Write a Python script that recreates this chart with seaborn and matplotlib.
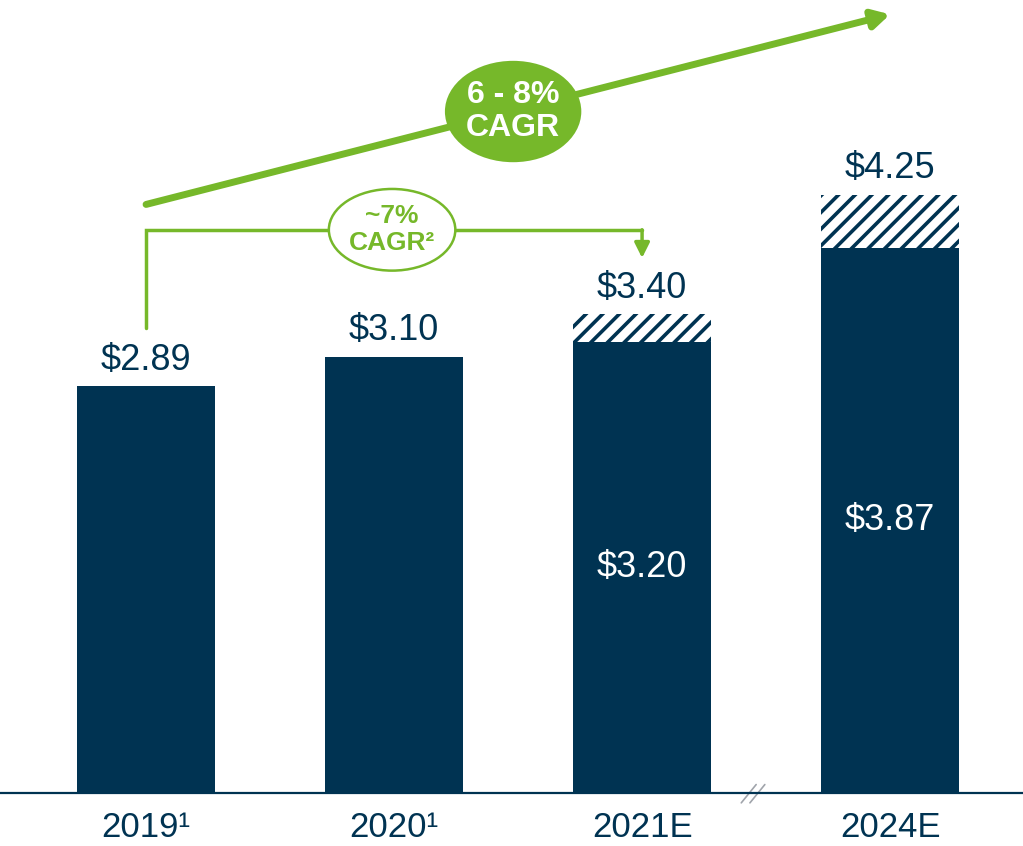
import matplotlib
matplotlib.use("Agg")
import matplotlib.pyplot as plt
import seaborn as sns
import pandas as pd
from matplotlib.patches import Ellipse

# chart values
years = ["2019\u00b9", "2020\u00b9", "2021E", "2024E"]
base_vals = [2.89, 3.10, 3.20, 3.87]     # solid part
total_vals = [2.89, 3.10, 3.40, 4.25]    # top of hatched range
top_labels = ["$2.89", "$3.10", "$3.40", "$4.25"]
inner_labels = ["", "", "$3.20", "$3.87"]
cagr_long = "6 - 8%\nCAGR"
cagr_short = "~7%\nCAGR\u00b2"

navy = "#003352"
green = "#76b82a"

sns.set_style("white")
plt.rcParams['font.family'] = ['Liberation Sans', 'DejaVu Sans']
plt.rcParams['hatch.linewidth'] = 2.6

df = pd.DataFrame({"year": years, "base": base_vals, "total": total_vals})

fig = plt.figure(figsize=(10.23, 8.46), dpi=100)
ax = fig.add_axes([0, 53 / 846, 1, 793 / 846])

# hatched range behind, solid base in front
sns.barplot(data=df, x="year", y="total", color="white", hatch="//",
            edgecolor=navy, linewidth=0, width=0.556, ax=ax)
sns.barplot(data=df, x="year", y="base", color=navy, saturation=1,
            edgecolor=navy, linewidth=0, width=0.556, ax=ax)

ax.set_xlim(-0.589, 3.536)
ax.set_ylim(0, 5.632)
for s in ["top", "right", "left"]:
    ax.spines[s].set_visible(False)
ax.spines["bottom"].set_color(navy)
ax.spines["bottom"].set_linewidth(1.6)
ax.set_yticks([])
ax.set_xlabel("")
ax.set_ylabel("")
ax.tick_params(axis="x", length=0, pad=13, labelsize=25, labelcolor=navy)

for i, (tot, base) in enumerate(zip(total_vals, base_vals)):
    ax.annotate(top_labels[i], (i, tot), xytext=(0, 6), textcoords="offset points",
                ha="center", va="bottom", fontsize=26, color=navy)
    if inner_labels[i]:
        ax.text(i, base / 2, inner_labels[i], ha="center", va="center",
                fontsize=26, color="white")

# long-term CAGR arrow
ax.annotate("", xy=(3.0, 5.53), xytext=(0.0, 4.18),
            arrowprops=dict(arrowstyle="-|>,head_length=1.0,head_width=0.55",
                            color=green, lw=5, shrinkA=0, shrinkB=0),
            annotation_clip=False)
ax.add_patch(Ellipse((1.48, 4.84), 0.55, 0.72, facecolor=green, edgecolor="none", zorder=5))
ax.text(1.48, 4.84, cagr_long, ha="center", va="center", fontsize=23, fontweight="bold",
        color="white", linespacing=1.1, zorder=6)

# short-term bracket arrow
ax.plot([0, 0, 2], [3.30, 4.0, 4.0], color=green, lw=2.5, solid_joinstyle="miter")
ax.annotate("", xy=(2, 3.80), xytext=(2, 4.0),
            arrowprops=dict(arrowstyle="-|>,head_length=0.9,head_width=0.45",
                            color=green, lw=2.5, shrinkA=0, shrinkB=0))
ax.add_patch(Ellipse((0.992, 4.0), 0.51, 0.58, facecolor="white", edgecolor=green,
                     lw=1.8, zorder=5))
ax.text(0.992, 4.0, cagr_short, ha="center", va="center", fontsize=19, fontweight="bold",
        color=green, linespacing=1.15, zorder=6)

# axis break marks
for dx in (0.0, 0.035):
    ax.plot([2.40 + dx, 2.46 + dx], [-0.07, 0.06], color="#a0a4ab", lw=1.2, clip_on=False)

fig.savefig("out.png", dpi=100)
